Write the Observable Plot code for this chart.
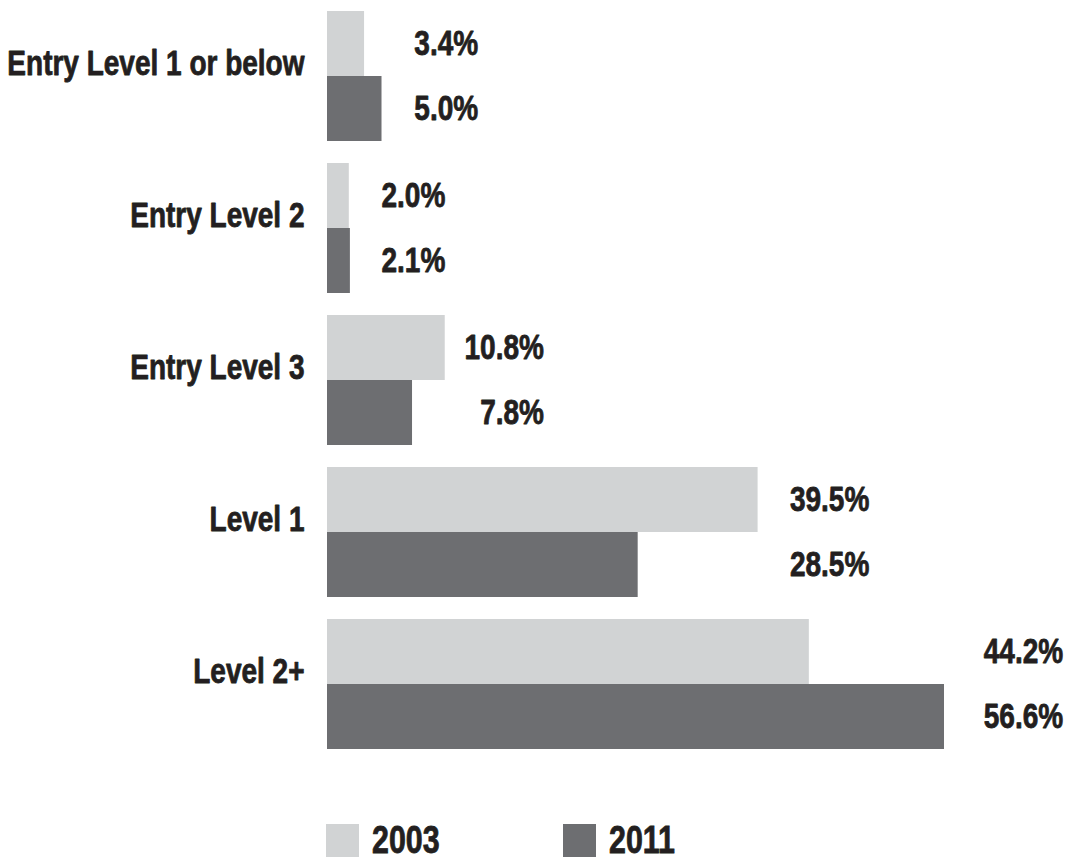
<!DOCTYPE html>
<html>
<head>
<meta charset="utf-8">
<script src="https://cdn.jsdelivr.net/npm/d3@7"></script>
<script src="https://cdn.jsdelivr.net/npm/@observablehq/plot@0.6"></script>
<style>
  html, body { margin: 0; padding: 0; background: #ffffff; }
  body { width: 1074px; height: 859px; overflow: hidden; font-family: 'Liberation Sans', Arial, sans-serif; font-weight: bold; color: #231f20; }
  #legend { display: flex; align-items: center; padding-left: 326px; margin-top: 43px; }
  .item { display: flex; align-items: center; }
  .sw { width: 33px; height: 33px; margin-right: 13px; }
  .lbl { font-size: 38px; line-height: 34px; display: inline-block; transform: scaleX(0.8); transform-origin: left center; -webkit-text-stroke: 0.8px #231f20; }
</style>
</head>
<body>
<div id="chart"></div>
<div id="legend"></div>
<script>
const categories = ["Entry Level 1 or below", "Entry Level 2", "Entry Level 3", "Level 1", "Level 2+"];
const years = ["2003", "2011"];
const values2003 = [3.4, 2.0, 10.8, 39.5, 44.2];
const values2011 = [5.0, 2.1, 7.8, 28.5, 56.6];
const colors = ["#d1d3d4", "#6d6e71"];

const data = [];
categories.forEach((c, i) => {
  data.push({category: c, year: years[0], value: values2003[i]});
  data.push({category: c, year: years[1], value: values2011[i]});
});
const groupMax = new Map(categories.map((c, i) => [c, Math.max(values2003[i], values2011[i])]));

const chart = Plot.plot({
  width: 1074,
  height: 780,
  marginLeft: 327,
  marginRight: 130,
  marginTop: 10,
  marginBottom: 31,
  style: {
    fontFamily: "'Liberation Sans', Arial, sans-serif",
    fontWeight: "bold",
    color: "#231f20",
    background: "#ffffff",
    overflow: "visible"
  },
  x: {domain: [0, 56.6], axis: null},
  fy: {domain: categories, paddingInner: 0.145, paddingOuter: 0, axis: null, label: null},
  y: {domain: years, padding: 0, axis: null, label: null},
  color: {domain: years, range: colors},
  marks: [
    Plot.barX(data, {fy: "category", y: "year", x: "value", fill: "year"}),
    Plot.text(categories, {
      fy: d => d,
      frameAnchor: "left",
      textAnchor: "end",
      dx: -23,
      dy: -13,
      text: d => d,
      fontSize: 35,
      fill: "#231f20",
      stroke: "#231f20",
      strokeWidth: 0.8
    }),
    Plot.text(data, {
      fy: "category",
      y: "year",
      x: d => groupMax.get(d.category) * 1.04,
      text: d => d.value.toFixed(1) + "%",
      textAnchor: "end",
      dx: 94,
      fontSize: 35,
      fill: "#231f20",
      stroke: "#231f20",
      strokeWidth: 0.8
    })
  ]
});
document.getElementById("chart").appendChild(chart);

// condense the text horizontally to mimic the condensed typeface
chart.querySelectorAll("text").forEach(el => {
  const t = el.getAttribute("transform") || "";
  el.setAttribute("transform", `${t} scale(0.8,1)`);
});

const legend = document.getElementById("legend");
years.forEach((y, i) => {
  const item = document.createElement("div");
  item.className = "item";
  if (i === 0) item.style.width = "237px";
  const sw = document.createElement("div");
  sw.className = "sw";
  sw.style.background = colors[i];
  const lbl = document.createElement("span");
  lbl.className = "lbl";
  lbl.textContent = y;
  item.appendChild(sw);
  item.appendChild(lbl);
  legend.appendChild(item);
});
</script>
</body>
</html>
